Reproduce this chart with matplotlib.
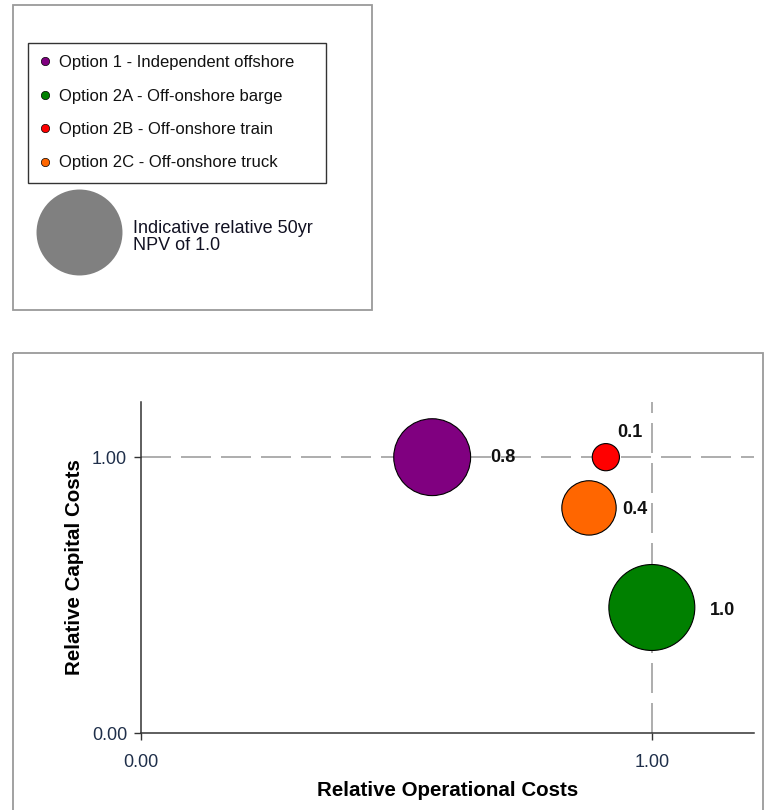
import matplotlib
matplotlib.use("Agg")
import matplotlib.pyplot as plt
import matplotlib.patches as mpatches
from matplotlib.lines import Line2D

plt.rcParams["font.family"] = ["Liberation Sans", "DejaVu Sans"]

# data
options = ["Option 1 - Independent offshore", "Option 2A - Off-onshore barge",
           "Option 2B - Off-onshore train", "Option 2C - Off-onshore truck"]
op_costs = [0.57, 1.00, 0.91, 0.877]
cap_costs = [1.00, 0.455, 1.00, 0.816]
npv = [0.8, 1.0, 0.1, 0.4]
npv_labels = ["0.8", "1.0", "0.1", "0.4"]
colors = ["#800080", "#008000", "#ff0000", "#ff6600"]
ref_npv = 1.0

# styling
W, H = 764, 810
SIZE_PER_NPV = 3830          # marker area (pt^2) of a bubble with NPV 1.0
label_offsets = [(42, 0), (42, -2), (8, 18), (24, -1)]
tick_color = "#1f2f4a"

fig = plt.figure(figsize=(W / 100, H / 100), dpi=100, facecolor="white")

# overlay in pixel coordinates for frames and the legend panel
ov = fig.add_axes([0, 0, 1, 1])
ov.set_xlim(0, W)
ov.set_ylim(H, 0)
ov.axis("off")
ov.add_patch(mpatches.Rectangle((13, 5), 359, 305, fill=False, edgecolor="#9a9a9a", linewidth=1.3))
ov.add_patch(mpatches.Rectangle((13, 353), 750, 470, fill=False, edgecolor="#9a9a9a", linewidth=1.3,
                                clip_on=False))

# reference bubble
ov.scatter([79], [232], s=ref_npv * SIZE_PER_NPV, color="#808080", linewidths=0)
ov.text(133, 237, "Indicative relative 50yr\nNPV of 1.0", fontsize=13, ha="left", va="center",
        color="#111122", linespacing=1.05)

handles = [Line2D([0], [0], marker="o", linestyle="none", markerfacecolor=c, markeredgecolor="black",
                  markeredgewidth=0.5, markersize=6) for c in colors]
leg = ov.legend(handles, options, loc="upper left",
                bbox_to_anchor=(28 / W, 1 - 43 / H, (326 - 28) / W, 0), bbox_transform=fig.transFigure,
                mode="expand", fontsize=12, frameon=True, fancybox=False, edgecolor="black",
                borderpad=0.72, labelspacing=1.11, handlelength=0.6, handletextpad=0.55,
                borderaxespad=0)
leg.get_frame().set_linewidth(1.0)
for t in leg.get_texts():
    t.set_color("#111111")

# main bubble chart
ax = fig.add_axes([141 / W, 1 - 733 / H, (754 - 141) / W, (733 - 402) / H])
ax.patch.set_alpha(0)
ax.set_xlim(0, 1.2)
ax.set_ylim(0, 1.2)
ax.axhline(1.0, color="#a0a0a0", linewidth=1.2, dashes=(18, 6), zorder=1)
ax.axvline(1.0, color="#a0a0a0", linewidth=1.2, dashes=(18, 6), zorder=1)
ax.scatter(op_costs, cap_costs, s=[v * SIZE_PER_NPV for v in npv], c=colors,
           edgecolors="black", linewidths=0.8, zorder=3)
for x, y, lab, off in zip(op_costs, cap_costs, npv_labels, label_offsets):
    ax.annotate(lab, (x, y), xytext=off, textcoords="offset points", ha="left", va="center",
                fontsize=13, fontweight="bold", color="#111111", zorder=4)

for side in ("top", "right"):
    ax.spines[side].set_visible(False)
for side in ("left", "bottom"):
    ax.spines[side].set_color("#333333")
    ax.spines[side].set_linewidth(1.1)
ax.set_xticks([0, 1])
ax.set_yticks([0, 1])
ax.set_xticklabels(["0.00", "1.00"])
ax.set_yticklabels(["0.00", "1.00"])
ax.tick_params(axis="x", direction="out", length=5, width=1, color="#333333", pad=10,
               labelsize=13, labelcolor=tick_color)
ax.tick_params(axis="y", direction="out", length=5, width=1, color="#333333", pad=5,
               labelsize=13, labelcolor=tick_color)
ax.set_xlabel("Relative Operational Costs", fontsize=14.8, fontweight="bold")
ax.set_ylabel("Relative Capital Costs", fontsize=14.8, fontweight="bold")
ax.xaxis.set_label_coords(0.5, -(791 - 733) / (733 - 402), transform=ax.transAxes)
ax.yaxis.set_label_coords(-(141 - 75) / (754 - 141), 0.5, transform=ax.transAxes)
ax.xaxis.label.set_va("center")
ax.yaxis.label.set_va("center")

fig.savefig("out.png", dpi=100, facecolor="white")
